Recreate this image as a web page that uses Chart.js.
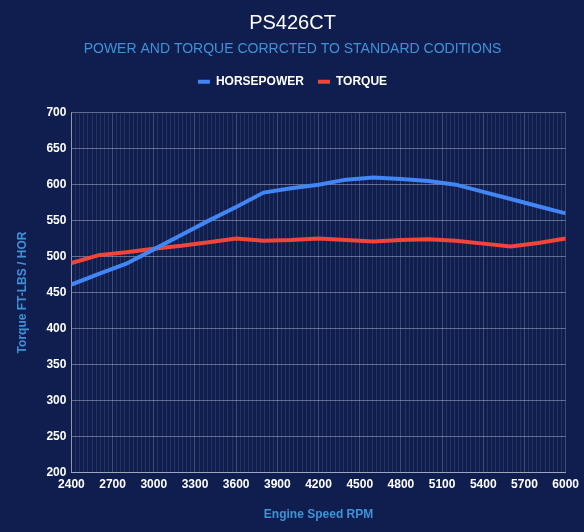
<!DOCTYPE html>
<html>
<head>
<meta charset="utf-8">
<script src="https://cdn.jsdelivr.net/npm/chart.js@4.4.0/dist/chart.umd.min.js"></script>
<style>
    html, body { margin: 0; padding: 0; background: #0f1e4e; }
    #wrap { width: 584px; height: 532px; }
</style>
</head>
<body>
<div id="wrap"><canvas id="dynoChart"></canvas></div>
<script>
// Datos del dyno
const rpm = [2400, 2600, 2800, 3000, 3200, 3400, 3600, 3800, 4000, 4200,
             4400, 4600, 4800, 5000, 5200, 5400, 5600, 5800, 6000];
const horsepower = [461, 476, 490, 510, 530, 550, 569, 589, 595, 600,
                    607, 610, 608, 605, 600, 590, 580, 570, 560];
const torque = [491, 502, 506, 511, 515, 520, 525, 522, 523, 525,
                523, 521, 523, 524, 522, 518, 514, 519, 525];
const seriesNames = ['HORSEPOWER', 'TORQUE'];

const rpmMin = 2400, rpmMax = 6000, rpmLabelStep = 300, rpmGridStep = 30;
const yMin = 200, yMax = 700, yStep = 50;

const toPoints = (ys) => ys.map((y, i) => ({ x: rpm[i], y: y }));

document.addEventListener('DOMContentLoaded', function () {
    const ctx = document.getElementById('dynoChart');
    const tickFont = { family: 'Liberation Sans', size: 12, weight: 'bold' };

    new Chart(ctx, {
        type: 'line',
        data: {
            datasets: [{
                label: seriesNames[0],
                data: toPoints(horsepower),
                borderColor: '#4285f4',
                backgroundColor: '#4285f4',
                borderWidth: 4,
                pointRadius: 0,
                tension: 0
            }, {
                label: seriesNames[1],
                data: toPoints(torque),
                borderColor: '#f2453a',
                backgroundColor: '#f2453a',
                borderWidth: 4,
                pointRadius: 0,
                tension: 0
            }]
        },
        options: {
            responsive: true,
            maintainAspectRatio: false,
            animation: false,
            layout: { padding: { left: 11, right: 10, top: 9, bottom: 6 } },
            plugins: {
                title: {
                    display: true,
                    text: 'PS426CT',
                    color: '#ffffff',
                    font: { family: 'Liberation Sans', size: 20, weight: 'normal' },
                    padding: { top: 2, bottom: 6 }
                },
                subtitle: {
                    display: true,
                    text: 'POWER AND TORQUE CORRCTED TO STANDARD CODITIONS',
                    color: '#3f92d8',
                    font: { family: 'Liberation Sans', size: 14, weight: 'normal' },
                    padding: { bottom: 4 }
                },
                legend: {
                    labels: {
                        color: '#ffffff',
                        font: tickFont,
                        boxWidth: 12,
                        boxHeight: 4,
                        padding: 14,
                        generateLabels: (chart) => {
                            const items = Chart.defaults.plugins.legend.labels.generateLabels(chart);
                            items.forEach(it => { it.lineWidth = 0; });
                            return items;
                        }
                    }
                },
                tooltip: { enabled: false }
            },
            scales: {
                x: {
                    type: 'linear',
                    min: rpmMin,
                    max: rpmMax,
                    ticks: {
                        stepSize: rpmGridStep,
                        autoSkip: false,
                        maxRotation: 0,
                        color: '#ffffff',
                        font: tickFont,
                        padding: 5,
                        callback: (v) => (v % rpmLabelStep === 0 ? String(v) : '')
                    },
                    grid: {
                        color: (c) => (c.tick && c.tick.value % rpmLabelStep === 0)
                            ? 'rgba(255,255,255,0.2)' : 'rgba(255,255,255,0.1)',
                        drawTicks: false
                    },
                    border: { color: 'rgba(200,205,225,0.6)' },
                    title: {
                        display: true,
                        text: 'Engine Speed RPM',
                        color: '#3f92d8',
                        font: tickFont,
                        padding: { top: 11 }
                    }
                },
                y: {
                    min: yMin,
                    max: yMax,
                    ticks: {
                        stepSize: yStep,
                        color: '#ffffff',
                        font: tickFont,
                        padding: 5
                    },
                    grid: {
                        color: 'rgba(200,205,225,0.45)',
                        drawTicks: false
                    },
                    border: { color: 'rgba(200,205,225,0.6)' },
                    title: {
                        display: true,
                        text: 'Torque FT-LBS / HOR',
                        color: '#3f92d8',
                        font: tickFont,
                        padding: { bottom: 12 }
                    }
                }
            }
        },
        plugins: [{
            // Espacio extra entre la leyenda y el área del gráfico
            id: 'legendMargin',
            beforeInit: (chart) => {
                const fit = chart.legend.fit;
                chart.legend.fit = function () {
                    fit.bind(chart.legend)();
                    this.height += 15;
                };
            }
        }]
    });
});
</script>
</body>
</html>
